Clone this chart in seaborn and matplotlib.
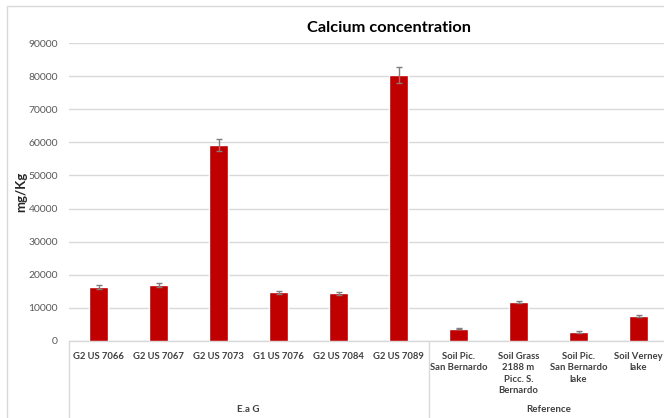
import matplotlib
matplotlib.use("Agg")
import matplotlib.pyplot as plt
from matplotlib.lines import Line2D
from matplotlib.transforms import blended_transform_factory
import numpy as np
import pandas as pd
import seaborn as sns

# Sample labels, grouped as they appear along the x axis
samples = [
    "G2 US 7066", "G2 US 7067", "G2 US 7073", "G1 US 7076", "G2 US 7084",
    "G2 US 7089", "Soil Pic.\nSan Bernardo", "Soil Grass\n2188 m\nPicc. S.\nBernardo",
    "Soil Pic.\nSan Bernardo\nlake", "Soil Verney\nlake",
]
groups = ["E.a G"] * 6 + ["Reference"] * 4
calcium = [16200, 16900, 59200, 14650, 14350, 80400, 3600, 11600, 2600, 7450]
calcium_err = [600, 600, 1800, 500, 500, 2500, 200, 300, 200, 250]
y_ticks = [0, 10000, 20000, 30000, 40000, 50000, 60000, 70000, 80000, 90000]

df = pd.DataFrame({"sample": samples, "group": groups,
                   "calcium": calcium, "err": calcium_err})

sns.set_theme(style="white")
plt.rcParams["font.family"] = ["Lato", "DejaVu Sans"]

W, H = 664, 418
fig = plt.figure(figsize=(W / 100, H / 100), dpi=100)
fig.patch.set_facecolor("white")

# axes in pixel terms: left 68, bottom 340.7, top 43.3, 60 px per category
left, right = 68.5, 668.5
top, bottom = 43.3, 340.7
ax = fig.add_axes([left / W, (H - bottom) / H, (right - left) / W, (bottom - top) / H])

grid_c = "#d9d9d9"
sns.barplot(data=df, x="sample", y="calcium", order=samples, color="#c00000",
            width=0.32, saturation=1, errorbar=None, ax=ax, zorder=3)
ax.errorbar(np.arange(len(samples)), df["calcium"], yerr=df["err"], fmt="none",
            ecolor="#7f7f7f", elinewidth=1, capsize=2.5, capthick=1, zorder=4)

ax.set_xlim(-0.5, len(samples) - 0.5)
ax.set_ylim(0, 90000)
ax.set_yticks(y_ticks)
ax.set_yticklabels([str(v) for v in y_ticks], fontsize=7.5, color="#595959")
ax.yaxis.grid(True, color=grid_c, linewidth=1, zorder=0)
ax.set_axisbelow(True)
for s in ["left", "right", "top"]:
    ax.spines[s].set_visible(False)
ax.spines["bottom"].set_color(grid_c)
ax.spines["bottom"].set_linewidth(1)
ax.tick_params(axis="y", length=0, pad=7.5)
ax.tick_params(axis="x", length=0, pad=8)
ax.set_xticks(np.arange(len(samples)))
ax.set_xticklabels(samples, fontsize=6.8, fontweight="bold", color="#404040",
                   linespacing=1.35, multialignment="center")
ax.set_xlabel("")
ax.set_ylabel("mg/Kg", fontsize=9.5, fontweight="bold", color="#262626")
ax.yaxis.set_label_coords(-(left - 27) / (right - left), 0.5)

# group captions and separators beneath the category labels
trans = blended_transform_factory(ax.transData, ax.transAxes)
axes_h_px = bottom - top
sep_bottom = -(H - bottom) / axes_h_px
for xpos in [-0.5, 5.5, 9.5]:
    ax.add_line(Line2D([xpos, xpos], [0, sep_bottom], transform=trans,
                       color=grid_c, linewidth=1, clip_on=False))
df_groups = df.reset_index().groupby("group", sort=False)["index"].agg(["min", "max"])
for name, row in df_groups.iterrows():
    ax.text((row["min"] + row["max"]) / 2, -(410 - bottom) / axes_h_px, name,
            transform=trans, ha="center", va="center", fontsize=7,
            fontweight="bold", color="#404040")

fig.text(389 / W, 1 - 28 / H, "Calcium concentration", ha="center", va="center",
         fontsize=11.8, fontweight="bold", color="#000000")

# chart area frame
fig.add_artist(Line2D([7 / W, 1], [1 - 6 / H, 1 - 6 / H], color=grid_c, linewidth=1))
fig.add_artist(Line2D([7 / W, 7 / W], [0, 1 - 6 / H], color=grid_c, linewidth=1))

fig.savefig("out.png", dpi=100, facecolor="white")
